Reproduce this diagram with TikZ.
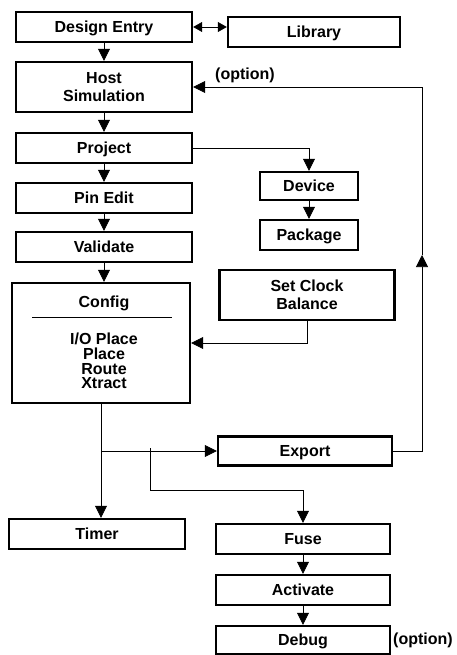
\documentclass[tikz,border=0pt]{standalone}
\usepackage{fontspec}
\setmainfont{Liberation Sans}
\usetikzlibrary{arrows.meta}

\begin{document}
\begin{tikzpicture}[x=1pt, y=-1pt,
    box/.style={draw, line width=2.4pt, minimum width=176pt, minimum height=30pt,
        inner sep=0pt, align=center, font=\fontsize{16}{18.5}\selectfont\bfseries},
    stage/.style={box, text height=11.5pt, text depth=0pt, yshift=0pt},
    txt/.style={inner sep=0pt, align=center, font=\fontsize{16}{14.7}\selectfont\bfseries},
    link/.style={line width=0.7pt, -{Triangle[length=12pt,width=12pt]}},
    both/.style={line width=0.7pt, {Triangle[length=9pt,width=10pt]}-{Triangle[length=9pt,width=10pt]}}]

\useasboundingbox (0,0) rectangle (456,655);

% left column
\node[stage] (entry) at (104,27) {Design Entry};
\node[box, minimum height=50pt] (host) at (104,87) {Host\\Simulation};
\node[stage] (project) at (104,148) {Project};
\node[stage] (pinedit) at (104,198) {Pin Edit};
\node[stage] (validate) at (104,247) {Validate};
\node[box, minimum width=178pt, minimum height=120pt] (config) at (101,343) {};
\node[txt] (cfgtitle) at (104,303) {Config};
\draw[line width=0.6pt] (32,317) -- (172,317);
\node[txt] (cfgsteps) at (104,361) {I/O Place\\Place\\Route\\Xtract};
\node[stage] (timer) at (97,534) {Timer};

% right column
\node[stage, minimum width=172pt] (lib) at (314,32) {Library};
\node[stage, minimum width=98pt, minimum height=28pt] (device) at (309,186) {Device};
\node[stage, minimum width=98pt] (package) at (309,235) {Package};
\node[box, minimum width=175pt, minimum height=50pt] (clock) at (307,295) {Set Clock\\Balance};
\node[stage, minimum width=174pt, minimum height=29pt] (export) at (305,451) {Export};
\node[stage, minimum width=174pt] (fuse) at (303,539) {Fuse};
\node[stage, minimum width=174pt] (activate) at (303,590) {Activate};
\node[stage, minimum width=174pt, minimum height=28pt] (debug) at (303,640) {Debug};

\node[txt] (opt1) at (245,75) {(option)};
\node[txt] (opt2) at (423,640) {(option)};

% flow
\draw[both] (entry.east) -- (lib.west |- entry.east);
\draw[link] (entry) -- (host);
\draw[link] (host) -- (project);
\draw[link] (project) -- (pinedit);
\draw[link] (pinedit) -- (validate);
\draw[link] (validate) -- (config.north -| validate);
\draw[link] (project.east) -| (device.north);
\draw[link] (device) -- (package);
\draw[link] (clock.south) |- (config.east);

\coordinate (split) at (config.south |- export.west);
\coordinate (fork) at (150,448);
\coordinate (bend) at (150,490);
\draw[link] (config.south) -- (config.south |- timer.north);
\draw[link] (split) -- (export.west);
\draw[link] (fork) -- (bend) -| (fuse.north);
\draw[link] (fuse) -- (activate);
\draw[link] (activate) -- (debug);

% back to host simulation
\coordinate (mid) at (422,255);
\coordinate (rtop) at (422,87);
\draw[link] (export.east) -| (mid);
\draw[link] (mid) -- (rtop) -- (host.east);

\end{tikzpicture}
\end{document}
